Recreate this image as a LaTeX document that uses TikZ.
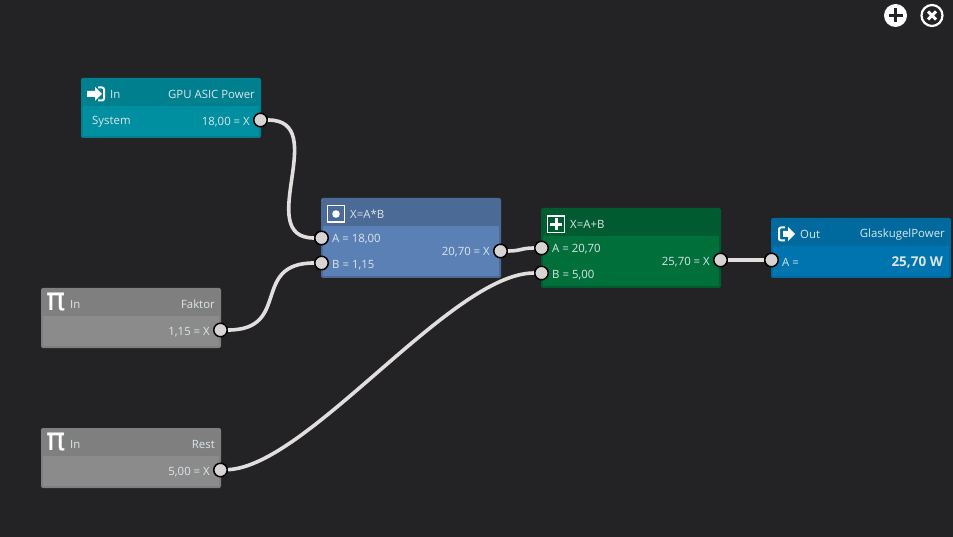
\documentclass[tikz,border=0pt]{standalone}
\usepackage{fontspec}
\setmainfont{Open Sans}
\newfontfamily\pifont{DejaVu Sans}
\definecolor{bgc}{HTML}{232326}
\definecolor{wirec}{HTML}{E2DEDE}
\definecolor{portc}{HTML}{D8D4D4}
\definecolor{tealh}{HTML}{00808F}
\definecolor{tealb}{HTML}{008FA1}
\definecolor{blueh}{HTML}{4B6A96}
\definecolor{blueb}{HTML}{5A80B6}
\definecolor{greenh}{HTML}{005B30}
\definecolor{greenb}{HTML}{006F3A}
\definecolor{outh}{HTML}{006A9E}
\definecolor{outb}{HTML}{0074AF}
\definecolor{grayh}{HTML}{7F7F7F}
\definecolor{grayb}{HTML}{8B8B8B}
\definecolor{texc}{HTML}{DCE6EA}
\tikzset{
  x=1pt,y=-1pt,
  blockbox/.style={anchor=north west,inner sep=0pt,outer sep=0pt,rounded corners=2pt,minimum width=180pt},
  bodybox/.style={anchor=south west,inner sep=0pt,outer sep=0pt,minimum width=176pt},
  port/.style={circle,fill=portc,draw=black,line width=1.5pt,minimum size=13.5pt,inner sep=0pt},
  wire/.style={draw=wirec,line width=3.6pt},
  lab/.style={font=\fontsize{11.4}{13}\selectfont,text=texc,inner sep=0pt},
  labl/.style={lab,anchor=west},
  labr/.style={lab,anchor=east},
  icon/.style={fill=white,draw=none},
}
\newcommand{\blk}[6]{% name,x,y,height,header,body
  \node[blockbox,fill=#5,minimum height=#4*1pt] (#1) at (#2,#3) {};
  \node[bodybox,fill=#6,minimum height=(#4-30)*1pt] (#1b) at (#2+2,#3+#4-2) {};
}
\begin{document}
\begin{tikzpicture}
\useasboundingbox (0,0) rectangle (953,537);
\fill[bgc] (0,0) rectangle (953,537);

% blocks
\blk{gpu}{81}{78}{60}{tealh}{tealb}
\blk{mul}{321}{198}{80}{blueh}{blueb}
\blk{add}{541}{208}{80}{greenh}{greenb}
\blk{out}{771}{218}{60}{outh}{outb}
\blk{fak}{41}{288}{60}{grayh}{grayb}
\blk{res}{41}{428}{60}{grayh}{grayb}

% ports
\node[port] (p1) at (260.5,120) {};
\node[port] (p2) at (321.5,238) {};
\node[port] (p3) at (321.5,263) {};
\node[port] (p4) at (500.5,251) {};
\node[port] (p5) at (541.5,248) {};
\node[port] (p6) at (541.5,273) {};
\node[port] (p7) at (720.5,260) {};
\node[port] (p8) at (771.5,260) {};
\node[port] (p9) at (220.5,330) {};
\node[port] (p10) at (220.5,470) {};

% wires
\draw[wire] (p1) .. controls (332,120) and (252,238) .. (p2);
\draw[wire] (p9) .. controls (292,330) and (250,263) .. (p3);
\draw[wire] (p4) .. controls (521,251) and (521,248) .. (p5);
\draw[wire] (p10) .. controls (308,466) and (452,273) .. (p6);
\draw[wire] (p7) -- (p8);

% texts
\node[labl] (t1) at (110,94.3) {In};
\node[labr] (t2) at (255,94.3) {GPU ASIC Power};
\node[labl] (t3) at (92,122) {System};
\node[labr] (t4) at (250,122) {18,00 = X};

\node[labl] (t5) at (350,214.3) {X=A*B};
\node[labl] (t6) at (332,239) {A = 18,00};
\node[labl] (t7) at (332,265) {B = 1,15};
\node[labr] (t8) at (490,252) {20,70 = X};

\node[labl] (t9) at (570,224.3) {X=A+B};
\node[labl] (t10) at (552,249) {A = 20,70};
\node[labl] (t11) at (552,275) {B = 5,00};
\node[labr] (t12) at (710,262) {25,70 = X};

\node[labl] (t13) at (800,234.3) {Out};
\node[labr] (t14) at (945,234.3) {GlaskugelPower};
\node[labl] (t15) at (782,262) {A =};
\node[labr,font=\fontsize{13.5}{15}\selectfont\bfseries] (t16) at (943,262) {25,70 W};

\node[labl] (t17) at (70,304.3) {In};
\node[labr] (t18) at (215,304.3) {Faktor};
\node[labr] (t19) at (210,332) {1,15 = X};
\node[labl] (t20) at (70,444.3) {In};
\node[labr] (t21) at (215,444.3) {Rest};
\node[labr] (t22) at (210,472) {5,00 = X};

% pi icons
\node[inner sep=0pt,text=white,font=\pifont\fontsize{32}{32}\selectfont] (pi1) at (56,302.5) {π};
\node[inner sep=0pt,text=white,font=\pifont\fontsize{32}{32}\selectfont] (pi2) at (56,442.5) {π};

% In icon
\fill[icon] (87,91) -- (95,91) -- (95,87) -- (102,94) -- (95,101) -- (95,97) -- (87,97) -- cycle;
\draw[white,line width=2pt,rounded corners=2pt] (98,87.5) -- (104,87.5) -- (104,100.5) -- (98,100.5);

% Mul icon
\draw[white,line width=1.3pt] (327.8,205.5) rectangle (344.5,222);
\fill[white] (336,214) circle (3.8);

% Add icon
\draw[white,line width=1.3pt] (547.8,216) rectangle (564.5,232.5);
\fill[white] (554.7,218.5) rectangle (557.7,230.5);
\fill[white] (550.2,223) rectangle (562.2,226);

% Out icon
\draw[white,line width=2pt,rounded corners=2pt] (785,227.5) -- (779,227.5) -- (779,240.5) -- (785,240.5);
\fill[icon] (783,231) -- (788,231) -- (788,227) -- (795,234) -- (788,241) -- (788,237) -- (783,237) -- cycle;

% top right buttons
\fill[white] (895.5,15.5) circle (11.5);
\draw[bgc,line width=2.4pt] (888.5,15.5) -- (902.5,15.5) (895.5,8.5) -- (895.5,22.5);
\draw[white,line width=2.2pt] (932,15.5) circle (10.5);
\draw[white,line width=3pt] (928,11.5) -- (936,19.5) (936,11.5) -- (928,19.5);
\end{tikzpicture}
\end{document}
